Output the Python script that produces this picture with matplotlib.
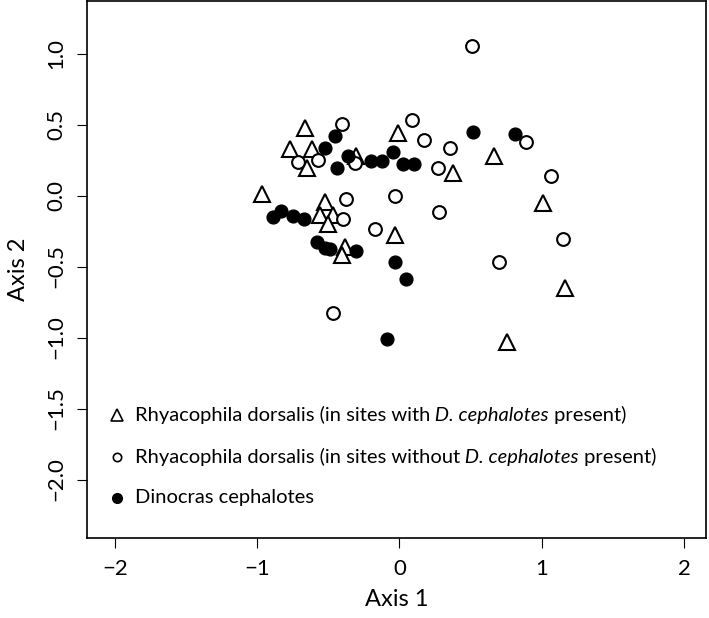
import matplotlib
matplotlib.use("Agg")
import matplotlib.pyplot as plt

plt.rcParams['font.family'] = ['Lato', 'DejaVu Sans']

# Rhyacophila dorsalis, sites with D. cephalotes present (open triangles)
tri_x = [-0.664, -0.769, -0.617, -0.652, -0.306, -0.008, 0.378, -0.524, -0.559, -0.465,
         -0.500, -0.383, -0.406, -0.032, -0.964, 0.666, 1.006, 1.163, 0.758]
tri_y = [0.473, 0.325, 0.325, 0.192, 0.278, 0.438, 0.161, -0.044, -0.137, -0.137,
         -0.201, -0.361, -0.419, -0.278, 0.008, 0.278, -0.051, -0.654, -1.034]

# Rhyacophila dorsalis, sites without D. cephalotes present (open circles)
circ_x = [-0.402, 0.090, 0.174, 0.355, -0.715, -0.571, -0.313, 0.268, -0.378, -0.032,
          0.280, -0.395, -0.172, 0.887, 1.063, 1.147, 0.701, -0.465, 0.510]
circ_y = [0.501, 0.532, 0.391, 0.337, 0.234, 0.250, 0.231, 0.196, -0.027, -0.001,
          -0.114, -0.168, -0.238, 0.379, 0.139, -0.308, -0.470, -0.830, 1.050]

# Dinocras cephalotes (filled circles)
dino_x = [-0.453, -0.524, -0.360, -0.437, -0.202, -0.125, -0.044, 0.027, 0.104, 0.519,
          0.812, -0.887, -0.833, -0.751, -0.669, -0.582, -0.524, -0.488, -0.306, -0.032,
          0.044, -0.090]
dino_y = [0.419, 0.337, 0.278, 0.196, 0.243, 0.243, 0.304, 0.220, 0.220, 0.449,
          0.433, -0.154, -0.107, -0.144, -0.168, -0.325, -0.368, -0.379, -0.389, -0.466,
          -0.590, -1.013]

# legend labels: (plain part, italic part, plain part)
legend_labels = [
    ("Rhyacophila dorsalis (in sites with", " D. cephalotes", " present)"),
    ("Rhyacophila dorsalis (in sites without", " D. cephalotes", " present)"),
    ("Dinocras cephalotes", "", ""),
]
x_ticks = [-2, -1, 0, 1, 2]
y_ticks = [-2.0, -1.5, -1.0, -0.5, 0.0, 0.5, 1.0]

fig = plt.figure(figsize=(7.09, 6.18), dpi=100)
ax = fig.add_axes([87/709, 1 - 538/618, (706-87)/709, (538-1)/618])

ax.plot(tri_x, tri_y, linestyle='none', marker='^', ms=12, mfc='white', mec='black', mew=1.5)
ax.plot(circ_x, circ_y, linestyle='none', marker='o', ms=9.2, mfc='white', mec='black', mew=1.5)
ax.plot(dino_x, dino_y, linestyle='none', marker='o', ms=9.2, mfc='black', mec='black', mew=1.0)

ax.set_xlim(-2.196, 2.154)
ax.set_ylim(-2.412, 1.370)
ax.set_xticks(x_ticks)
ax.set_xticklabels(["\u2212" + str(abs(v)) if v < 0 else str(v) for v in x_ticks])
ax.set_yticks(y_ticks)
ax.set_yticklabels([("\u2212" if v < 0 else "") + f"{abs(v):.1f}" for v in y_ticks],
                   rotation=90, va='center')
ax.tick_params(axis='both', labelsize=16, length=7, width=0.8, pad=8)
for s in ax.spines.values():
    s.set_linewidth(1.2)
ax.set_xlabel("Axis 1", fontsize=17, labelpad=7)
ax.set_ylabel("Axis 2", fontsize=17, labelpad=12)

# legend (drawn manually in axes coordinates)
leg_y = [0.229, 0.151, 0.0745]
leg_styles = [dict(marker='^', ms=8.5, mfc='white', mec='black', mew=1.2),
              dict(marker='o', ms=6, mfc='white', mec='black', mew=1.2),
              dict(marker='o', ms=7, mfc='black', mec='black', mew=1.0)]
fs = 14.5
for yy, st, lab in zip(leg_y, leg_styles, legend_labels):
    ax.plot([0.0485], [yy], transform=ax.transAxes, linestyle='none', **st)
    t = ax.text(0.0775, yy, lab[0], transform=ax.transAxes, fontsize=fs,
                va='center', ha='left')
    if lab[1]:
        t = ax.annotate(lab[1], xy=(1, 0), xycoords=t, fontsize=fs, style='italic',
                        va='bottom', ha='left')
        t = ax.annotate(lab[2], xy=(1, 0), xycoords=t, fontsize=fs,
                        va='bottom', ha='left')

fig.savefig("out.png", dpi=100)
